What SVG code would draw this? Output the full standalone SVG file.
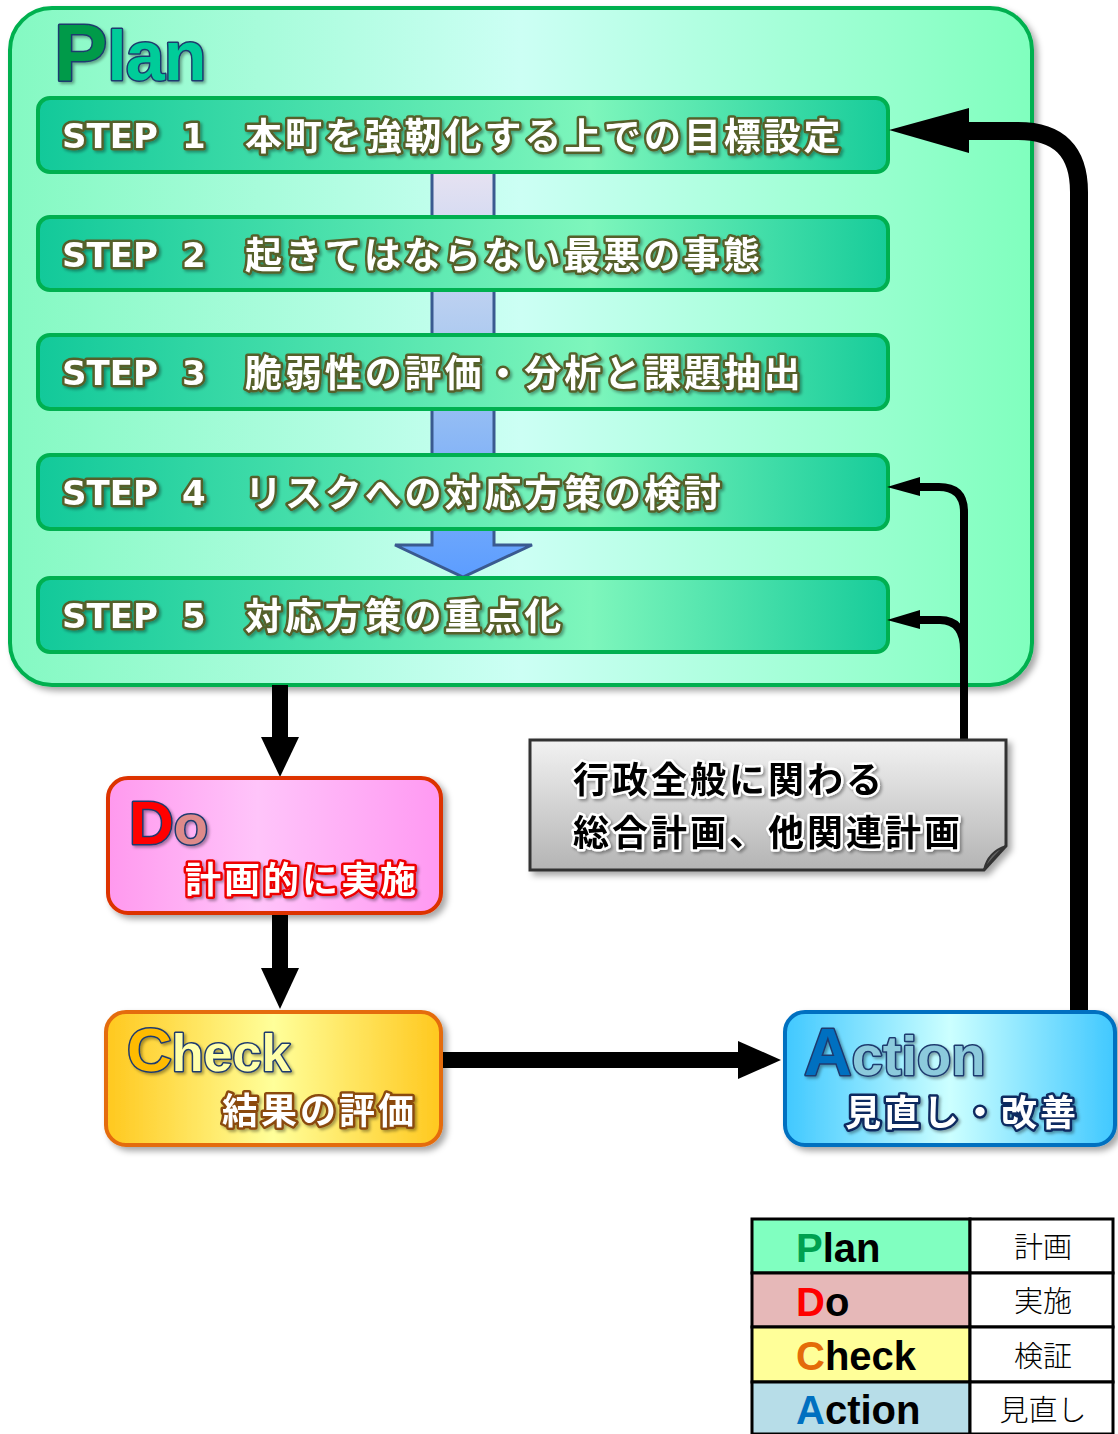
<svg xmlns="http://www.w3.org/2000/svg" width="1118" height="1434" viewBox="0 0 1118 1434">
<defs>
<linearGradient id="gPlan" x1="0" y1="0" x2="1" y2="0">
<stop offset="0" stop-color="#84f9c2"/><stop offset="0.5" stop-color="#ccfff4"/><stop offset="1" stop-color="#80ffbe"/>
</linearGradient>
<linearGradient id="gStep" x1="0" y1="0" x2="1" y2="0">
<stop offset="0" stop-color="#12c99a"/><stop offset="0.65" stop-color="#7ef6bc"/><stop offset="1" stop-color="#17cc9a"/>
</linearGradient>
<linearGradient id="gBig" x1="0" y1="172" x2="0" y2="577" gradientUnits="userSpaceOnUse">
<stop offset="0" stop-color="#e6e2f2"/><stop offset="0.45" stop-color="#a8c8f0"/><stop offset="1" stop-color="#5c9dff"/>
</linearGradient>
<linearGradient id="gDo" x1="0" y1="0" x2="1" y2="0">
<stop offset="0" stop-color="#ff99ee"/><stop offset="0.45" stop-color="#ffc4fa"/><stop offset="1" stop-color="#ff99f2"/>
</linearGradient>
<linearGradient id="gCheck" x1="0" y1="0" x2="1" y2="0">
<stop offset="0" stop-color="#ffc81e"/><stop offset="0.5" stop-color="#ffff9a"/><stop offset="1" stop-color="#ffc81e"/>
</linearGradient>
<linearGradient id="gAct" x1="0" y1="0" x2="1" y2="0">
<stop offset="0" stop-color="#40c8ff"/><stop offset="0.5" stop-color="#ccffff"/><stop offset="1" stop-color="#40c8ff"/>
</linearGradient>
<linearGradient id="gNote" x1="0" y1="0" x2="0" y2="1">
<stop offset="0" stop-color="#f2f2f2"/><stop offset="1" stop-color="#b4b4b4"/>
</linearGradient>
<filter id="sh" x="-10%" y="-10%" width="130%" height="130%">
<feDropShadow dx="4" dy="4" stdDeviation="3" flood-color="#000" flood-opacity="0.35"/>
</filter>
<filter id="tsh" x="-10%" y="-20%" width="130%" height="150%">
<feDropShadow dx="2" dy="2" stdDeviation="1.5" flood-color="#000" flood-opacity="0.35"/>
</filter>
<style>
.step{fill:url(#gStep);stroke:#00b050;stroke-width:4}
.st{font-family:"Noto Sans CJK JP","DejaVu Sans",sans-serif;font-weight:700;font-size:37px;fill:#fff;stroke:#55602a;stroke-width:5;stroke-linejoin:round;paint-order:stroke;letter-spacing:2.9px}
.sl{font-family:"DejaVu Sans","Noto Sans",sans-serif;font-weight:700;font-size:34px;fill:#fff;stroke:#55602a;stroke-width:5;stroke-linejoin:round;paint-order:stroke}
.big{font-family:"Liberation Sans",Arial,sans-serif;font-weight:700;stroke:#1f3a6e;stroke-width:3;stroke-linejoin:round;paint-order:stroke}
.jp{font-family:"Noto Sans CJK JP",sans-serif;font-weight:700;font-size:36px;fill:#fff;stroke-width:5;stroke-linejoin:round;paint-order:stroke;letter-spacing:3px}
.lg{font-family:"Liberation Sans",Arial,sans-serif;font-weight:700;font-size:40px;fill:#000}
.lj{font-family:"Noto Sans CJK JP",sans-serif;font-weight:300;font-size:29px;fill:#000;text-anchor:middle}
.cell{stroke:#000;stroke-width:3}
</style>
</defs>
<rect width="1118" height="1434" fill="#fff"/>

<g id="plan">
<rect x="10" y="8" width="1022" height="677" rx="42" fill="url(#gPlan)" stroke="#00b050" stroke-width="4" filter="url(#sh)"/>
<text x="54" y="80" class="big" filter="url(#tsh)"><tspan font-size="80" fill="#009a4a">P</tspan><tspan font-size="70" fill="#00cc99" letter-spacing="-1">lan</tspan></text>
</g>

<g id="flow-arrow">
<path d="M432 170 H494 V545 H532 L463 577 L395 545 H432 Z" fill="url(#gBig)" stroke="#3a5a90" stroke-width="3" stroke-linejoin="miter"/>
</g>

<g id="step1">
<rect class="step" x="38" y="98" width="850" height="74" rx="12"/>
<text class="sl" x="62" y="148" filter="url(#tsh)">STEP</text><text class="sl" x="182" y="148" filter="url(#tsh)">1</text>
<text class="st" x="245" y="150" filter="url(#tsh)">本町を強靭化する上での目標設定</text>
</g>
<g id="step2">
<rect class="step" x="38" y="217" width="850" height="73" rx="12"/>
<text class="sl" x="62" y="267" filter="url(#tsh)">STEP</text><text class="sl" x="182" y="267" filter="url(#tsh)">2</text>
<text class="st" x="245" y="269" filter="url(#tsh)">起きてはならない最悪の事態</text>
</g>
<g id="step3">
<rect class="step" x="38" y="335" width="850" height="74" rx="12"/>
<text class="sl" x="62" y="385" filter="url(#tsh)">STEP</text><text class="sl" x="182" y="385" filter="url(#tsh)">3</text>
<text class="st" x="245" y="387" filter="url(#tsh)">脆弱性の評価・分析と課題抽出</text>
</g>
<g id="step4">
<rect class="step" x="38" y="455" width="850" height="74" rx="12"/>
<text class="sl" x="62" y="505" filter="url(#tsh)">STEP</text><text class="sl" x="182" y="505" filter="url(#tsh)">4</text>
<text class="st" x="245" y="507" filter="url(#tsh)">リスクへの対応方策の検討</text>
</g>
<g id="step5">
<rect class="step" x="38" y="578" width="850" height="74" rx="12"/>
<text class="sl" x="62" y="628" filter="url(#tsh)">STEP</text><text class="sl" x="182" y="628" filter="url(#tsh)">5</text>
<text class="st" x="245" y="630" filter="url(#tsh)">対応方策の重点化</text>
</g>

<g id="connectors">
<rect x="272" y="685" width="16" height="55" fill="#000"/>
<polygon points="261,737 299,737 280,777" fill="#000"/>
<rect x="272" y="913" width="16" height="58" fill="#000"/>
<polygon points="261,968 299,968 280,1009" fill="#000"/>
<rect x="441" y="1052" width="300" height="16" fill="#000"/>
<polygon points="738,1041 738,1079 781,1060" fill="#000"/>
<path d="M1079 1012 V192 Q1079 131 1018 131 H960" fill="none" stroke="#000" stroke-width="18"/>
<polygon points="889,130 969,108 969,153" fill="#000"/>
<path d="M964 742 V512 Q964 487 939 487 H915" fill="none" stroke="#000" stroke-width="8"/>
<polygon points="887,487 920,477 920,496" fill="#000"/>
<path d="M964 650 Q964 620 940 620 H915" fill="none" stroke="#000" stroke-width="8"/>
<polygon points="887,620 920,610 920,629" fill="#000"/>
</g>

<g id="note">
<path d="M530 740 H1006 V846 L984 870 H530 Z" fill="url(#gNote)" stroke="#333" stroke-width="3" filter="url(#sh)"/>
<path d="M984 870 Q988 852 1006 846 Q994 856 984 870 Z" fill="#666" stroke="#333" stroke-width="2"/>
<text class="jp" x="573" y="793" style="fill:#000;stroke:#fff" filter="url(#tsh)">行政全般に関わる</text>
<text class="jp" x="573" y="846" style="fill:#000;stroke:#fff" filter="url(#tsh)">総合計画、他関連計画</text>
</g>

<g id="do">
<rect x="108" y="778" width="333" height="135" rx="20" fill="url(#gDo)" stroke="#dd3300" stroke-width="4" filter="url(#sh)"/>
<text class="big" x="129" y="844" filter="url(#tsh)"><tspan font-size="62" fill="#ff0000">D</tspan><tspan font-size="56" fill="#dd8a8a">o</tspan></text>
<text class="jp" x="185" y="893" style="stroke:#ee0000" filter="url(#tsh)">計画的に実施</text>
</g>

<g id="check">
<rect x="106" y="1012" width="335" height="133" rx="20" fill="url(#gCheck)" stroke="#e46c0a" stroke-width="4" filter="url(#sh)"/>
<text class="big" x="127" y="1071" filter="url(#tsh)"><tspan font-size="62" fill="#ffbb00">C</tspan><tspan font-size="52" fill="#ffffaa">heck</tspan></text>
<text class="jp" x="222" y="1124" style="stroke:#8a4a10" filter="url(#tsh)">結果の評価</text>
</g>

<g id="action">
<rect x="785" y="1012" width="330" height="133" rx="20" fill="url(#gAct)" stroke="#0070c0" stroke-width="4" filter="url(#sh)"/>
<text class="big" x="804" y="1075" filter="url(#tsh)"><tspan font-size="66" fill="#0070c0">A</tspan><tspan font-size="56" fill="#8ccadc">ction</tspan></text>
<text class="jp" x="845" y="1126" style="stroke:#102a60" filter="url(#tsh)">見直し・改善</text>
</g>

<g id="legend">
<rect class="cell" x="752" y="1219" width="218" height="54" fill="#80ffc0"/>
<rect class="cell" x="970" y="1219" width="143" height="54" fill="#fff"/>
<rect class="cell" x="752" y="1273" width="218" height="54" fill="#e6b8b8"/>
<rect class="cell" x="970" y="1273" width="143" height="54" fill="#fff"/>
<rect class="cell" x="752" y="1327" width="218" height="55" fill="#ffff99"/>
<rect class="cell" x="970" y="1327" width="143" height="55" fill="#fff"/>
<rect class="cell" x="752" y="1382" width="218" height="52" fill="#b7dde8"/>
<rect class="cell" x="970" y="1382" width="143" height="52" fill="#fff"/>
<text class="lg" x="796" y="1262"><tspan fill="#00a050">P</tspan>lan</text>
<text class="lg" x="796" y="1316"><tspan fill="#ff0000">D</tspan>o</text>
<text class="lg" x="796" y="1370"><tspan fill="#e46c0a">C</tspan>heck</text>
<text class="lg" x="796" y="1424"><tspan fill="#0070c0">A</tspan>ction</text>
<text class="lj" x="1043" y="1258">計画</text>
<text class="lj" x="1043" y="1312">実施</text>
<text class="lj" x="1043" y="1367">検証</text>
<text class="lj" x="1043" y="1421">見直し</text>
</g>
</svg>
